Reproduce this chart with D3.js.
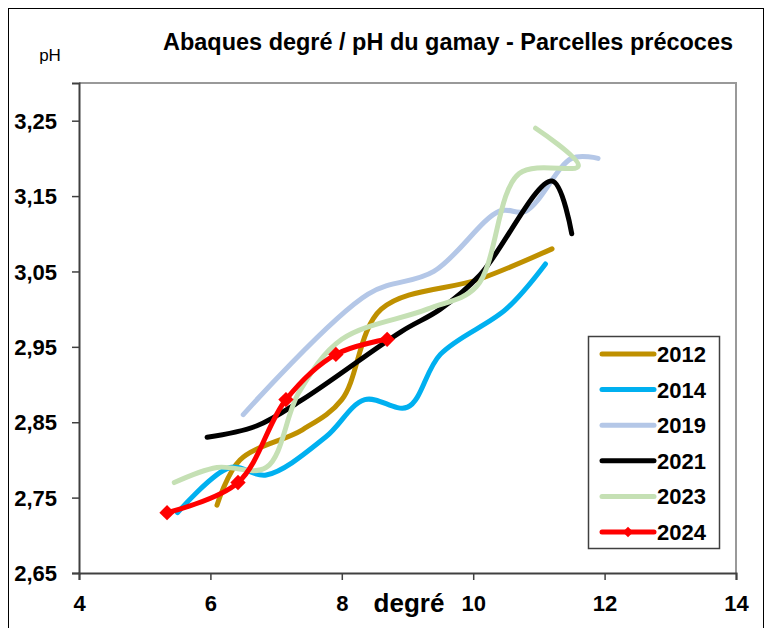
<!DOCTYPE html>
<html>
<head>
<meta charset="utf-8">
<script src="https://cdn.jsdelivr.net/npm/d3@7"></script>
<style>
  body { margin: 0; background: #fff; }
  text { font-family: "Liberation Sans", Arial, sans-serif; }
</style>
</head>
<body>
<svg id="chart" width="771" height="628"></svg>
<script>
// Data (degré, pH)
var years = ['2012', '2014', '2019', '2021', '2023', '2024']
var colors = ['#BF9000', '#00B0F0', '#B4C7E7', '#000000', '#C5E0B4', '#FF0000']

var s2012 = [[6.1, 2.74], [6.45, 2.80], [7.4, 2.84], [8.0, 2.88], [8.6, 3.0], [10.1, 3.04], [11.2, 3.08]]
var s2014 = [[5.5, 2.73], [6.3, 2.79], [6.85, 2.78], [7.75, 2.83], [8.35, 2.88], [9.0, 2.87], [9.5, 2.94], [10.5, 3.0], [11.1, 3.06]]
var s2019 = [[6.5, 2.86], [8.4, 3.02], [9.4, 3.05], [10.4, 3.13], [10.8, 3.13], [11.5, 3.20], [11.9, 3.20]]
var s2021 = [[5.95, 2.83], [6.7, 2.845], [7.4, 2.88], [8.9, 2.97], [9.5, 3.0], [10.1, 3.045], [11.2, 3.17], [11.5, 3.10]]
var s2023 = [[5.45, 2.77], [6.1, 2.79], [6.85, 2.79], [7.35, 2.89], [8.0, 2.96], [9.3, 3.0], [10.05, 3.03], [10.7, 3.18], [11.6, 3.19], [10.95, 3.24]]
var s2024 = [[5.34, 2.73], [6.42, 2.77], [7.15, 2.88], [7.91, 2.94], [8.69, 2.96]]
var series = [s2012, s2014, s2019, s2021, s2023, s2024]

var xTicks = [4, 6, 8, 10, 12, 14]
var yTicks = [2.65, 2.75, 2.85, 2.95, 3.05, 3.15, 3.25]

var svg = d3.select('#chart')

// outer frame
svg.append('rect')
    .attr('x', 8.5).attr('y', 8.5)
    .attr('width', 755).attr('height', 640)
    .attr('fill', 'none').attr('stroke', '#000').attr('stroke-width', 1)

var x = d3.scaleLinear().domain([4, 14]).range([79, 736])
var y = d3.scaleLinear().domain([2.65, 3.30]).range([573, 83])

// plot border (top and right)
svg.append('path')
    .attr('d', 'M' + x(4) + ',' + y(3.30) + 'H' + x(14) + 'V' + y(2.65))
    .attr('fill', 'none').attr('stroke', '#999').attr('stroke-width', 2)

// axes
var yAxis = svg.append('g')
    .attr('transform', 'translate(' + x(4) + ',0)')
    .call(d3.axisLeft(y).tickValues(yTicks).tickSize(7).tickPadding(15)
        .tickFormat(function (d) { return d3.format('.2f')(d).replace('.', ',') }))
var xAxis = svg.append('g')
    .attr('transform', 'translate(0,' + y(2.65) + ')')
    .call(d3.axisBottom(x).tickValues(xTicks).tickSize(7).tickPadding(15))

svg.selectAll('.domain').attr('stroke', '#404040').attr('stroke-width', 2)
svg.selectAll('.tick line').attr('stroke', '#404040').attr('stroke-width', 1.5)
svg.selectAll('.tick text')
    .style('font-size', '22px').style('font-weight', 'bold')
    .attr('fill', '#000')
    .style('font-family', '"Liberation Sans", Arial, sans-serif')
yAxis.selectAll('.tick text').attr('dy', '0.35em')

// lines
var line = d3.line()
    .x(function (d) { return x(d[0]) })
    .y(function (d) { return y(d[1]) })
    .curve(d3.curveCatmullRom.alpha(0.5))

series.forEach(function (s, i) {
    svg.append('path')
        .datum(s)
        .attr('fill', 'none')
        .attr('stroke', colors[i])
        .attr('stroke-width', 5)
        .attr('stroke-linecap', 'round')
        .attr('stroke-linejoin', 'round')
        .attr('d', line)
})

// markers for 2024
var diamond = d3.symbol().type(d3.symbolDiamond2).size(150)
svg.selectAll('.marker')
    .data(s2024)
    .enter().append('path')
    .attr('class', 'marker')
    .attr('transform', function (d) { return 'translate(' + x(d[0]) + ',' + y(d[1]) + ')' })
    .attr('d', diamond)
    .attr('fill', '#FF0000')

// titles
svg.append('text')
    .attr('x', 448).attr('y', 50)
    .attr('text-anchor', 'middle')
    .attr('textLength', 570).attr('lengthAdjust', 'spacingAndGlyphs')
    .style('font-size', '23px').style('font-weight', 'bold')
    .text('Abaques degré / pH du gamay - Parcelles précoces')
svg.append('text')
    .attr('x', 50).attr('y', 61)
    .attr('text-anchor', 'middle')
    .style('font-size', '17px')
    .text('pH')
svg.append('text')
    .attr('x', 409).attr('y', 612)
    .attr('text-anchor', 'middle')
    .style('font-size', '26px').style('font-weight', 'bold')
    .text('degré')

// legend
var legend = svg.append('g')
legend.append('rect')
    .attr('x', 588.5).attr('y', 336.5)
    .attr('width', 131).attr('height', 212)
    .attr('fill', '#fff').attr('stroke', '#404040').attr('stroke-width', 1.5)

years.forEach(function (yr, i) {
    var ly = 354 + i * 35.6
    legend.append('line')
        .attr('x1', 602).attr('x2', 654)
        .attr('y1', ly).attr('y2', ly)
        .attr('stroke', colors[i]).attr('stroke-width', 5)
        .attr('stroke-linecap', 'round')
    if (yr === '2024') {
        legend.append('path')
            .attr('transform', 'translate(628,' + ly + ')')
            .attr('d', d3.symbol().type(d3.symbolDiamond2).size(70))
            .attr('fill', '#FF0000')
    }
    legend.append('text')
        .attr('x', 657).attr('y', ly + 8)
        .style('font-size', '22px').style('font-weight', 'bold')
        .text(yr)
})
</script>
</body>
</html>
